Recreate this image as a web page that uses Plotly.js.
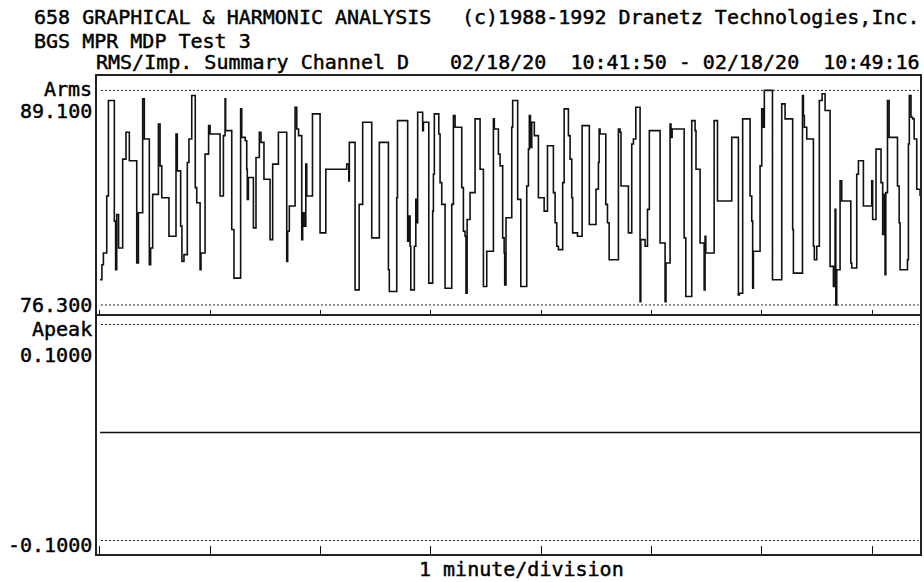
<!DOCTYPE html>
<html>
<head>
<meta charset="utf-8">
<script src="https://cdn.plot.ly/plotly-3.0.1.min.js"></script>
<style>
html,body{margin:0;padding:0;background:#fff;}
#chart{width:924px;height:582px;}
#chart .annotation-text{stroke:#000;stroke-width:0.45px;}
</style>
</head>
<body>
<div id="chart"></div>
<script>
// Seconds after 10:41:50 at which the RMS value changes, and the new value (Arms)
const armsTime = [2.2,3.2,4.0,5.8,6.7,9.9,10.6,11.2,12.2,14.4,16.2,18.0,22.0,22.9,25.2,26.1,28.8,29.5,30.6,33.7,34.6,35.5,39.4,43.2,43.9,45.7,46.4,47.5,49.3,50.2,51.7,53.6,54.4,56.2,56.7,58.9,60.8,61.6,67.0,68.8,69.7,70.0,73.3,74.5,78.1,78.7,80.6,81.4,81.7,82.3,85.0,86.4,88.2,89.1,90.7,94.0,95.4,98.5,103.0,103.5,104.4,107.5,108.4,109.4,111.1,111.6,112.4,113.3,113.8,116.9,121.0,124.1,135.4,136.5,136.8,139.9,142.1,144.0,148.9,153.0,157.9,158.4,162.4,162.8,168.3,169.1,169.6,170.0,171.9,172.7,173.2,173.7,176.4,176.8,179.7,181.8,182.2,182.7,185.1,185.8,186.7,188.5,192.1,193.0,193.9,197.5,198.4,199.3,199.8,200.4,202.0,204.7,207.4,209.2,211.0,214.6,215.1,217.3,218.2,219.6,220.4,220.7,221.4,224.5,225.0,227.7,229.4,232.6,233.5,234.0,234.6,235.3,236.7,238.9,242.0,243.8,247.0,247.9,248.8,249.7,252.0,252.8,255.1,256.0,256.9,257.4,260.0,262.5,266.4,270.0,271.3,271.7,272.2,275.3,276.2,277.1,282.1,283.0,283.5,287.5,289.3,290.2,291.5,293.8,294.2,296.5,297.8,298.8,304.6,307.3,307.8,310.0,310.5,311.1,317.6,318.5,321.7,323.5,324.0,326.2,328.4,328.9,329.3,333.8,335.6,343.3,346.9,347.4,349.2,353.2,354.1,354.6,355.0,358.6,359.5,360.4,360.9,365.3,370.3,372.1,376.2,376.6,381.5,382.0,382.5,383.8,387.4,387.9,389.2,390.6,392.1,393.7,396.4,398.2,399.1,399.5,400.0,401.8,402.7,407.6,408.1,410.8,411.7,414.4,418.9,419.4,421.2,423.9,424.8,425.7,426.1,426.5,427.4,428.3,432.8,433.7,434.2,438.2,438.7,439.2,440.1,441.0,441.8,443.2,445.0];
const armsValue = [77.8,78.7,79.4,82.8,88.5,81.3,78.4,81.7,79.7,85.0,86.6,84.9,78.8,81.8,88.6,86.2,78.7,79.7,82.9,87.1,84.6,82.7,80.4,86.5,84.3,81.0,78.9,79.3,84.8,86.2,88.8,83.3,82.4,78.4,79.4,85.3,87.0,86.5,82.8,86.4,88.6,86.7,80.8,77.9,88.0,86.3,86.1,84.4,82.6,83.9,80.9,85.1,86.6,86.0,83.8,80.2,84.7,86.6,78.9,80.7,82.2,88.1,86.8,86.4,80.2,81.8,81.0,84.7,82.8,87.7,80.6,84.4,84.7,83.7,86.0,77.2,82.3,87.2,80.3,86.0,78.4,77.1,82.7,87.3,80.1,81.6,79.8,77.2,79.8,82.6,81.2,87.8,86.7,87.2,77.6,81.9,84.1,87.7,86.5,83.6,82.3,77.3,82.3,87.6,86.9,83.3,80.7,80.4,77.0,81.4,83.0,87.4,84.4,77.4,79.5,87.4,86.8,85.3,84.6,80.3,79.4,77.5,81.5,86.9,88.5,82.6,77.4,83.4,85.6,87.6,85.7,87.2,86.4,82.7,81.9,85.8,83.0,81.2,79.8,79.6,83.6,88.0,86.4,85.0,82.7,80.6,80.4,87.0,81.1,83.2,84.8,86.8,86.5,82.3,81.2,79.0,86.8,86.6,83.4,80.6,85.9,86.2,88.1,76.5,80.2,79.8,82.0,86.7,80.0,76.5,78.8,87.1,86.3,86.8,80.3,76.8,87.3,86.7,84.4,80.0,77.2,80.4,79.4,87.3,82.5,86.3,76.9,77.0,87.4,82.8,81.3,77.3,79.5,84.6,88.0,86.9,89.1,77.8,88.3,87.4,80.8,78.2,88.8,87.6,86.9,86.2,79.8,79.0,79.8,88.5,88.9,87.9,78.6,77.4,82.0,76.3,78.4,83.7,82.5,78.8,78.5,84.1,84.9,82.2,83.7,81.4,85.6,83.6,80.5,82.9,78.1,83.0,88.5,86.3,83.4,81.2,78.4,79.0,85.9,88.8,87.5,87.4,86.2,83.2,82.8];

// Peak current channel: flat at zero over the whole window
const apeakTime = [2.2, 445.0];
const apeakValue = [0, 0];

// Scale limits printed on the chart
const armsMax = 89.1, armsMin = 76.3;
const apeakMax = 0.1, apeakMin = -0.1;
const armsMaxLabel = "89.100", armsMinLabel = "76.300";
const apeakMaxLabel = "0.1000", apeakMinLabel = "-0.1000";

const FONT = {family: "DejaVu Sans Mono, Liberation Mono, monospace", size: 20, color: "#000"};
const PW = 825, PH = 480, ML = 96, MT = 75;
const px2x = p => (p - ML) / PW;
const py2y = p => (MT + PH - p) / PH;

const traces = [
  {x: armsTime, y: armsValue, xaxis: "x", yaxis: "y", type: "scatter", mode: "lines",
   line: {color: "#111", width: 1.6, shape: "hv"}, hoverinfo: "skip"},
  {x: apeakTime, y: apeakValue, xaxis: "x2", yaxis: "y2", type: "scatter", mode: "lines",
   line: {color: "#111", width: 1.6}, hoverinfo: "skip"}
];

const baseX = {range: [0, 445.5], tickmode: "linear", tick0: 61.6, dtick: 59.6,
  ticks: "inside", tickcolor: "#111", tickwidth: 1, showticklabels: false,
  showgrid: false, zeroline: false, showline: false, fixedrange: true};
const baseY = {showticklabels: false, ticks: "", showgrid: false, zeroline: false, showline: false, fixedrange: true};

function ann(text, xp, yp, xanchor) {
  return {text: text, xref: "paper", yref: "paper", x: px2x(xp), y: py2y(yp),
    xanchor: xanchor, yanchor: "middle", showarrow: false, font: FONT, borderpad: 0};
}
const nb = s => s.replace(/ /g, "\u00a0");

const dotted = {color: "#222", width: 1, dash: "2px,2px"};
const layout = {
  width: 924, height: 582,
  margin: {l: ML, r: 3, t: MT, b: 27},
  paper_bgcolor: "#fff", plot_bgcolor: "#fff",
  showlegend: false,
  xaxis: Object.assign({}, baseX, {domain: [0, 1], anchor: "y", ticklen: 5}),
  yaxis: Object.assign({}, baseY, {domain: [0.5, 1], anchor: "x", range: [75.70, 90.02]}),
  xaxis2: Object.assign({}, baseX, {domain: [0, 1], anchor: "y2", ticklen: 9}),
  yaxis2: Object.assign({}, baseY, {domain: [0, 0.5], anchor: "x2", range: [-0.1134, 0.1088]}),
  shapes: [
    {type: "rect", xref: "paper", yref: "paper", x0: 0, x1: 1, y0: 0, y1: 1, line: {color: "#222", width: 2}},
    {type: "line", xref: "paper", yref: "paper", x0: 0, x1: 1, y0: 0.5, y1: 0.5, line: {color: "#222", width: 2}},
    {type: "line", xref: "paper", yref: "y", x0: 0.006, x1: 0.997, y0: armsMax, y1: armsMax, line: dotted},
    {type: "line", xref: "paper", yref: "y", x0: 0.006, x1: 0.997, y0: armsMin, y1: armsMin, line: dotted},
    {type: "line", xref: "paper", yref: "y2", x0: 0.006, x1: 0.997, y0: apeakMax, y1: apeakMax, line: dotted},
    {type: "line", xref: "paper", yref: "y2", x0: 0.006, x1: 0.997, y0: apeakMin, y1: apeakMin, line: dotted}
  ],
  annotations: [
    ann(nb("658 GRAPHICAL & HARMONIC ANALYSIS"), 33, 17.5, "left"),
    ann(nb("(c)1988-1992 Dranetz Technologies,Inc."), 921, 17.5, "right"),
    ann(nb("BGS MPR MDP Test 3"), 33, 40.5, "left"),
    ann(nb("RMS/Imp. Summary Channel D"), 95, 62, "left"),
    ann(nb("02/18/20  10:41:50 - 02/18/20  10:49:16"), 921, 62, "right"),
    ann("Arms", 93, 89, "right"),
    ann(armsMaxLabel, 93, 111, "right"),
    ann(armsMinLabel, 93, 305, "right"),
    ann("Apeak", 93, 329, "right"),
    ann(apeakMaxLabel, 93, 355, "right"),
    ann(apeakMinLabel, 93, 545, "right"),
    ann(nb("1 minute/division"), 521, 569, "center")
  ]
};

Plotly.newPlot("chart", traces, layout, {staticPlot: true, displayModeBar: false});
</script>
</body>
</html>
